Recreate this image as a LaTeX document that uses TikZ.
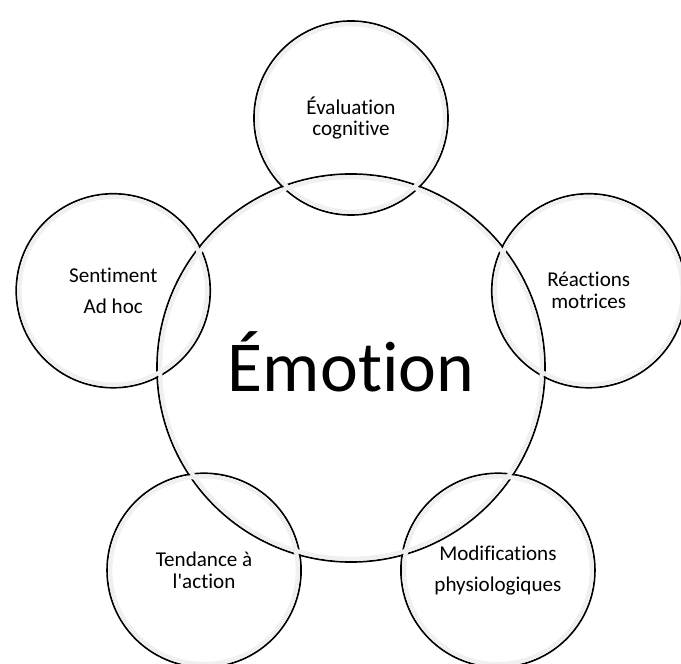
\documentclass[tikz,border=0pt]{standalone}
\usepackage{fontspec}
\setmainfont{Carlito}[Ligatures={NoCommon,NoContextual}]
\usetikzlibrary{calc}

\tikzset{
	bubble/.style={draw, circle, line width=1.2pt, inner sep=0pt, minimum size=4.85cm,
		align=center, font=\fontsize{15}{15.6}\selectfont},
}

\begin{document}
\begin{tikzpicture}

	% ---- parameters

	\def\dist{6.25}
	\def\bigradius{4.85}
	\def\smallradius{2.425}

	\useasboundingbox (-8.775,-7.4) rectangle (8.25,9.2);

	% ---- centre

	\node[draw, circle, line width=1.2pt, inner sep=0pt, minimum size=9.7cm,
		text height=32.8pt, text depth=0pt, font=\fontsize{51}{60}\selectfont]
		(emotion) at (0,0) {Émotion};

	% ---- satellites

	\node[bubble] (eval)  at (90:\dist)   {Évaluation\\cognitive};
	\node[bubble] (reac)  at (18:\dist)   {Réactions\\motrices};
	\node[bubble] (modif) at (-54:\dist)  {Modifications\\[6.8pt]physiologiques};
	\node[bubble] (tend)  at (-126:\dist) {Tendance à\\l\textquotesingle action};
	\node[bubble] (sent)  at (162:\dist)  {Sentiment\\[6.8pt]Ad hoc};

	% inner glow
	\foreach \n/\r in {emotion/\bigradius, eval/\smallradius, reac/\smallradius,
		modif/\smallradius, tend/\smallradius, sent/\smallradius} {
		\draw[black!6, line width=3pt] (\n.center) circle (\r-0.08);
	}

\end{tikzpicture}
\end{document}
